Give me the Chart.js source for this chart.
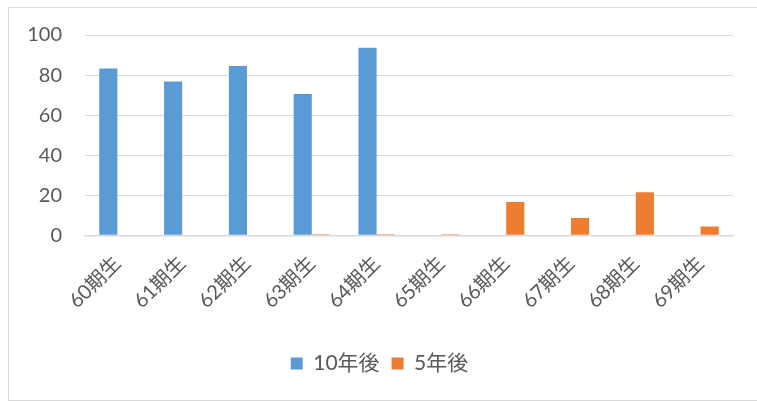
<!DOCTYPE html>
<html>
<head>
<meta charset="utf-8">
<script src="https://cdn.jsdelivr.net/npm/chart.js@4"></script>
<style>
  body { margin: 0; background: #fff; }
  #wrap { position: relative; width: 757px; height: 401px; }
  #frame { position: absolute; left: 8px; top: 7px; width: 760px; height: 392px; border: 1px solid #d9d9d9; pointer-events: none; }
</style>
</head>
<body>
<div id="wrap">
  <canvas id="chart"></canvas>
  <div id="frame"></div>
</div>
<script>
const categories = ['60期生', '61期生', '62期生', '63期生', '64期生', '65期生', '66期生', '67期生', '68期生', '69期生'];
const after10 = [83.3, 76.8, 84.5, 70.5, 93.6, 0, 0, 0, 0, 0];
const after5 = [0, 0, 0, 0.5, 0.5, 0.5, 16.7, 8.6, 21.5, 4.4];
const yTicks = [0, 20, 40, 60, 80, 100];

const fontFamily = "Lato, 'Noto Sans CJK JP', sans-serif";
const textColor = '#595959';

new Chart(document.getElementById('chart').getContext('2d'), {
    type: 'bar',
    data: {
        labels: categories,
        datasets: [{
            label: '10年後',
            data: after10,
            backgroundColor: '#5b9bd5'
        }, {
            label: '5年後',
            data: after5,
            backgroundColor: '#ed7d31'
        }]
    },
    options: {
        responsive: true,
        maintainAspectRatio: false,
        animation: false,
        datasets: {
            bar: { categoryPercentage: 0.56, barPercentage: 1 }
        },
        layout: { padding: { top: 33, left: 26, right: 24, bottom: 17 } },
        scales: {
            x: {
                grid: { display: false },
                border: { color: '#d9d9d9', width: 1.5 },
                ticks: {
                    color: textColor,
                    font: { family: fontFamily, size: 20 },
                    minRotation: 45,
                    maxRotation: 45,
                    padding: 8
                },
                afterFit: axis => {
                    axis.height += 20;
                    axis.paddingLeft = 0;
                    axis.paddingRight = 0;
                }
            },
            y: {
                min: 0,
                max: 100,
                afterBuildTicks: axis => { axis.ticks = yTicks.map(v => ({ value: v })); },
                grid: { color: '#d9d9d9', drawTicks: false },
                border: { display: false },
                ticks: {
                    color: textColor,
                    font: { family: fontFamily, size: 20 },
                    padding: 23
                },
                afterFit: axis => { axis.width = 59; }
            }
        },
        plugins: {
            legend: {
                position: 'bottom',
                labels: {
                    color: textColor,
                    font: { family: fontFamily, size: 21 },
                    boxWidth: 12,
                    boxHeight: 12,
                    padding: 12
                }
            },
            tooltip: { enabled: false }
        }
    }
});
</script>
</body>
</html>
